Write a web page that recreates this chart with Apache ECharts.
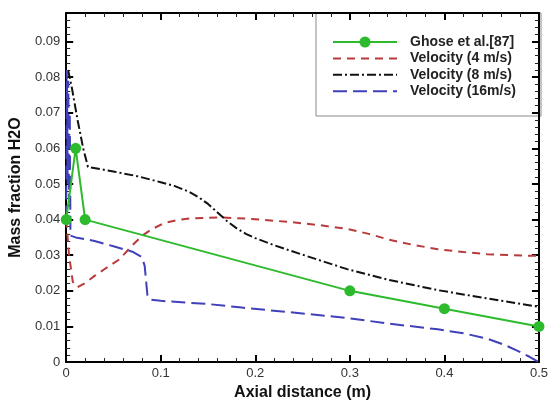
<!DOCTYPE html>
<html>
<head>
<meta charset="utf-8">
<script src="https://cdn.jsdelivr.net/npm/echarts@6/dist/echarts.min.js"></script>
<style>
  html, body { margin: 0; padding: 0; background: #fff; }
  #chart { width: 551px; height: 406px; }
</style>
</head>
<body>
<div id="chart"></div>
<script>
// Mass fraction of H2O along the axial distance
const ghoseX = [0, 0.01, 0.02, 0.3, 0.4, 0.5];
const ghoseY = [0.04, 0.06, 0.04, 0.02, 0.015, 0.01];

const v4X = [0, 0.003, 0.007, 0.012, 0.02, 0.03, 0.04, 0.056, 0.07, 0.082, 0.09, 0.103, 0.118, 0.134, 0.165, 0.196, 0.238, 0.269, 0.297, 0.32, 0.341, 0.367, 0.393, 0.42, 0.445, 0.47, 0.5];
const v4Y = [0.04, 0.03, 0.0225, 0.021, 0.0222, 0.0242, 0.026, 0.0288, 0.0328, 0.0358, 0.0372, 0.039, 0.0399, 0.0404, 0.0406, 0.0402, 0.0393, 0.0384, 0.0374, 0.036, 0.0344, 0.0329, 0.0317, 0.0309, 0.0303, 0.03, 0.0298];

const v8X = [0.002, 0.006, 0.012, 0.018, 0.023, 0.05, 0.075, 0.1, 0.115, 0.13, 0.14, 0.15, 0.16, 0.17, 0.18, 0.19, 0.2, 0.22, 0.238, 0.269, 0.297, 0.341, 0.393, 0.445, 0.5];
const v8Y = [0.082, 0.077, 0.068, 0.06, 0.0548, 0.0535, 0.0522, 0.0505, 0.0494, 0.0478, 0.0463, 0.0444, 0.042, 0.0396, 0.0376, 0.036, 0.0348, 0.0328, 0.0312, 0.0285, 0.0261, 0.0231, 0.0202, 0.0179, 0.0155];

const v16X = [0, 0.0008, 0.0015, 0.0022, 0.003, 0.0038, 0.0045, 0.01, 0.03, 0.05, 0.07, 0.08, 0.083, 0.086, 0.09, 0.1, 0.15, 0.186, 0.24, 0.297, 0.341, 0.393, 0.42, 0.445, 0.463, 0.478, 0.49, 0.5];
const v16Y = [0.04, 0.082, 0.05, 0.079, 0.045, 0.07, 0.0355, 0.035, 0.034, 0.0325, 0.031, 0.0295, 0.027, 0.0185, 0.0175, 0.0172, 0.0163, 0.0153, 0.0139, 0.0124, 0.0108, 0.0092, 0.0081, 0.0066, 0.0049, 0.0031, 0.0015, 0];

const seriesNames = ['Ghose et al.[87]', 'Velocity (4 m/s)', 'Velocity (8 m/s)', 'Velocity (16m/s)'];
const xTicks = { min: 0, max: 0.5, interval: 0.1 };
const yTicks = { min: 0, max: 0.098, interval: 0.01 };

const pairs = (xs, ys) => xs.map((x, i) => [x, ys[i]]);

const FONT = 'Arial, "Liberation Sans", sans-serif';
const COLORS = ['#2dbb2d', '#b83a3a', '#111111', '#4040bb'];
const DASHES = [null, [8, 6], [9, 3, 2, 3], [14, 6]];

function frameAxis(base) {
  return Object.assign({
    axisLine: { show: true, onZero: false, lineStyle: { color: '#000', width: 2 } },
    axisTick: { show: true, inside: true, length: 7, lineStyle: { color: '#000', width: 2 } },
    minorTick: { show: true, splitNumber: 5, length: 4, lineStyle: { color: '#222', width: 1 } },
    splitLine: { show: false },
    minorSplitLine: { show: false }
  }, base);
}

// Boxed key in the upper right corner: a line sample and a label per series
function legendGraphics() {
  const box = { x: 316, y: 13, w: 225, h: 103 };
  const rowTop = 42, rowStep = 16.4, lineX1 = 333, lineX2 = 397, textX = 410;
  const els = [{
    type: 'rect', z: -10,
    shape: { x: box.x, y: box.y, width: box.w, height: box.h },
    style: { fill: '#fff', stroke: '#8a8a8a', lineWidth: 1 }
  }];
  seriesNames.forEach((name, i) => {
    const y = rowTop + i * rowStep;
    els.push({
      type: 'line', z: 10,
      shape: { x1: lineX1, y1: y, x2: lineX2, y2: y },
      style: { stroke: COLORS[i], lineWidth: 2, lineDash: DASHES[i] || null }
    });
    if (i === 0) {
      els.push({
        type: 'circle', z: 11,
        shape: { cx: (lineX1 + lineX2) / 2, cy: y, r: 5.5 },
        style: { fill: COLORS[0] }
      });
    }
    els.push({
      type: 'text', z: 10, x: textX, y: y,
      style: { text: name, fill: '#222', font: 'bold 14px ' + FONT, verticalAlign: 'middle', align: 'left' }
    });
  });
  return els;
}

const chart = echarts.init(document.getElementById('chart'), null, { renderer: 'canvas' });

chart.setOption({
  animation: false,
  backgroundColor: '#fff',
  grid: { left: 61, right: 8, top: 13, bottom: 36 },
  graphic: legendGraphics(),
  xAxis: [
    frameAxis({
      type: 'value', position: 'bottom',
      min: xTicks.min, max: xTicks.max, interval: xTicks.interval,
      name: 'Axial distance (m)', nameLocation: 'middle', nameGap: 19,
      nameTextStyle: { fontFamily: FONT, fontSize: 16, fontWeight: 'bold', color: '#111' },
      axisLabel: { fontFamily: FONT, fontSize: 13, color: '#333', margin: 5, formatter: v => String(+v.toFixed(2)) }
    }),
    frameAxis({
      type: 'value', position: 'top',
      min: xTicks.min, max: xTicks.max, interval: xTicks.interval,
      axisLabel: { show: false }
    })
  ],
  yAxis: [
    frameAxis({
      type: 'value', position: 'left',
      min: yTicks.min, max: yTicks.max, interval: yTicks.interval,
      name: 'Mass fraction H2O', nameLocation: 'middle', nameGap: 31,
      nameTextStyle: { fontFamily: FONT, fontSize: 16, fontWeight: 'bold', color: '#111' },
      axisLabel: { fontFamily: FONT, fontSize: 13, color: '#333', margin: 6, showMaxLabel: false, formatter: v => String(+v.toFixed(2)) }
    }),
    frameAxis({
      type: 'value', position: 'right',
      min: yTicks.min, max: yTicks.max, interval: yTicks.interval,
      axisLabel: { show: false }
    })
  ],
  series: [
    {
      name: seriesNames[0], type: 'line', data: pairs(ghoseX, ghoseY),
      symbol: 'circle', symbolSize: 11, z: 5,
      itemStyle: { color: COLORS[0] },
      lineStyle: { color: COLORS[0], width: 2 }
    },
    {
      name: seriesNames[1], type: 'line', data: pairs(v4X, v4Y),
      symbol: 'none', z: 3,
      lineStyle: { color: COLORS[1], width: 2, type: DASHES[1] }
    },
    {
      name: seriesNames[2], type: 'line', data: pairs(v8X, v8Y),
      symbol: 'none', z: 3,
      lineStyle: { color: COLORS[2], width: 2, type: DASHES[2] }
    },
    {
      name: seriesNames[3], type: 'line', data: pairs(v16X, v16Y),
      symbol: 'none', z: 4,
      lineStyle: { color: COLORS[3], width: 2, type: DASHES[3] }
    }
  ]
});
</script>
</body>
</html>
